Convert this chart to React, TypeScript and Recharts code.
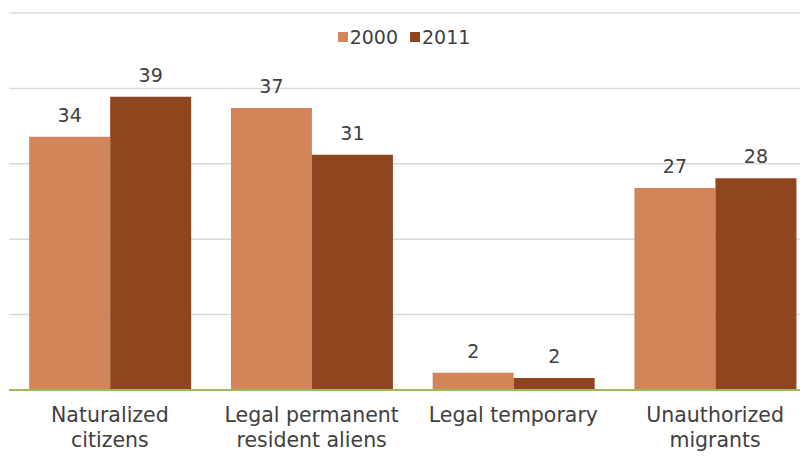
import React from 'react';
import { BarChart, Bar, XAxis, YAxis, CartesianGrid, Legend, LabelList } from 'recharts';

const categories = ['Naturalized citizens', 'Legal permanent resident aliens', 'Legal temporary', 'Unauthorized migrants'];
const tickLines = [['Naturalized', 'citizens'], ['Legal permanent', 'resident aliens'], ['Legal temporary'], ['Unauthorized', 'migrants']];
const values2000 = [33.6, 37.4, 2.3, 26.8];
const values2011 = [38.9, 31.2, 1.6, 28.1];
const yTicks = [0, 10, 20, 30, 40, 50];

const C2000 = '#d3855a';
const C2011 = '#8f461f';
const FONT = '"DejaVu Sans", Verdana, sans-serif';

const data = categories.map((name, i) => ({ name, idx: i, y2000: values2000[i], y2011: values2011[i] }));

const CategoryTick = (props: any) => {
  const { x, y, payload } = props;
  const lines = tickLines[payload.value] || [];
  return (
    <text x={x} y={y} textAnchor="middle" fill="#404040" fontSize={20.5} fontFamily={FONT}>
      {lines.map((l, i) => (
        <tspan key={i} x={x} dy={i === 0 ? 24 : 25}>{l}</tspan>
      ))}
    </text>
  );
};

const LegendRow = () => (
  <div style={{ display: 'flex', justifyContent: 'center', fontFamily: FONT, fontSize: 19, color: '#404040' }}>
    {[['2000', C2000], ['2011', C2011]].map(([label, color]) => (
      <div key={label} style={{ display: 'flex', alignItems: 'center', marginRight: 12 }}>
        <span style={{ width: 10, height: 10, background: color, display: 'inline-block', marginRight: 2 }} />
        <span>{label}</span>
      </div>
    ))}
  </div>
);

const App = () => {
  return (
    <div style={{ marginLeft: -8, marginTop: -8, width: 808, height: 456, overflow: 'hidden', background: '#fff' }}>
      <BarChart width={820} height={456} data={data} margin={{ top: 13, right: 4, left: 9, bottom: 6 }} barCategoryGap="10%" barGap={0}>
        <CartesianGrid vertical={false} stroke="#d9d9d9" strokeWidth={1.5} />
        <XAxis dataKey="idx" height={60} tickLine={false} axisLine={{ stroke: '#9bbb59', strokeWidth: 2 }} tick={<CategoryTick />} interval={0} />
        <YAxis hide domain={[0, 50]} ticks={yTicks} />
        <Legend layout="vertical" align="center" verticalAlign="top" wrapperStyle={{ top: 26, height: 0, overflow: 'visible' }} content={<LegendRow />} />
        <Bar dataKey="y2000" fill={C2000} isAnimationActive={false}>
          <LabelList dataKey="y2000" position="top" offset={15} fill="#404040" fontSize={19} fontFamily={FONT} formatter={(v: any) => Math.round(v)} />
        </Bar>
        <Bar dataKey="y2011" fill={C2011} isAnimationActive={false}>
          <LabelList dataKey="y2011" position="top" offset={15} fill="#404040" fontSize={19} fontFamily={FONT} formatter={(v: any) => Math.round(v)} />
        </Bar>
      </BarChart>
    </div>
  );
};

export default App;
